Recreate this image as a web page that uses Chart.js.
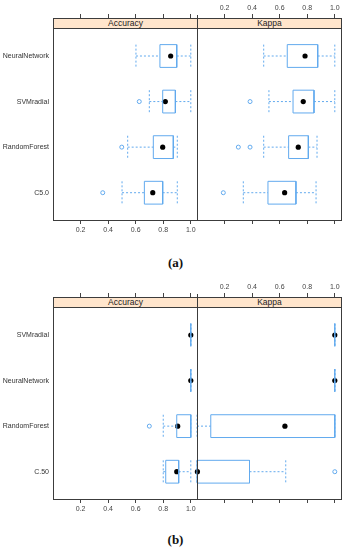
<!DOCTYPE html>
<html><head><meta charset="utf-8">
<script src="https://cdn.jsdelivr.net/npm/chart.js@4.4.1/dist/chart.umd.min.js"></script>
<style>
html,body{margin:0;padding:0;background:#fff;}
body{width:351px;height:550px;position:relative;overflow:hidden;font-family:"Liberation Sans",Arial,sans-serif;}
canvas{position:absolute;}
.frame{position:absolute;border:1px solid #3c3c3c;box-sizing:border-box;pointer-events:none;}
.vline{position:absolute;width:1px;background:#3c3c3c;}
.strip{position:absolute;height:11px;background:#ffe5cc;border-bottom:1px solid #3c3c3c;box-sizing:border-box;font-size:8.5px;line-height:10px;text-align:center;color:#222;}
.caption{position:absolute;left:0;width:351px;text-align:center;font-family:"Liberation Serif","Times New Roman",serif;font-weight:bold;font-size:13px;line-height:16px;color:#111;}
</style></head><body>
<script>
// ---------- data ----------
const tickValues = [0.2, 0.4, 0.6, 0.8, 1.0];
const panelTitles = ["Accuracy", "Kappa"];

// (a)
const catsA = ["NeuralNetwork", "SVMradial", "RandomForest", "C5.0"];
const accA_lo  = [0.602, 0.699, 0.542, 0.501];
const accA_q1  = [0.776, 0.796, 0.728, 0.663];
const accA_med = [0.854, 0.815, 0.796, 0.724];
const accA_q3  = [0.898, 0.888, 0.873, 0.796];
const accA_hi  = [1.0, 1.0, 0.902, 0.902];
const accA_out = [[], [0.626], [0.499], [0.361]];

const kapA_lo  = [0.484, 0.522, 0.484, 0.336];
const kapA_q1  = [0.655, 0.697, 0.665, 0.515];
const kapA_med = [0.784, 0.771, 0.735, 0.636];
const kapA_q3  = [0.876, 0.849, 0.808, 0.718];
const kapA_hi  = [1.0, 1.0, 0.871, 0.864];
const kapA_out = [[], [0.385], [0.300, 0.385], [0.191]];

// (b)
const catsB = ["SVMradial", "NeuralNetwork", "RandomForest", "C.50"];
const accB_lo  = [1.0, 1.0, 0.80, 0.80];
const accB_q1  = [1.0, 1.0, 0.898, 0.818];
const accB_med = [1.0, 1.0, 0.905, 0.898];
const accB_q3  = [1.0, 1.0, 1.0, 0.912];
const accB_hi  = [1.0, 1.0, 1.0, 1.0];
const accB_out = [[], [], [0.699], []];

const kapB_lo  = [1.0, 1.0, 0.0, 0.0];
const kapB_q1  = [1.0, 1.0, 0.10, 0.0];
const kapB_med = [1.0, 1.0, 0.638, 0.003];
const kapB_q3  = [1.0, 1.0, 1.0, 0.381];
const kapB_hi  = [1.0, 1.0, 1.0, 0.644];
const kapB_out = [[], [], [], [1.0]];

// ---------- style / layout ----------
const BLUE = '#62aaee';
const AXIS = '#444';
const FONT = '"Liberation Sans", Arial, sans-serif';
const XMIN = 0, XMAX = 1.045;
const YMIN = -0.834, YMAX = 3.599;
const HALF = 0.25;

function el(tag, cls, style, text){
  const e = document.createElement(tag);
  if (cls) e.className = cls;
  Object.assign(e.style, style);
  if (text !== undefined) e.textContent = text;
  document.body.appendChild(e);
  return e;
}

const GAP = {x: null, y: null};
function boxPts(q1, q3){
  const d = [];
  q1.forEach((a, i) => {
    const b = q3[i];
    d.push({x:a,y:i-HALF},{x:b,y:i-HALF},{x:b,y:i+HALF},{x:a,y:i+HALF},{x:a,y:i-HALF},GAP);
  });
  return d;
}
function whiskPts(lo, q1, q3, hi){
  const d = [];
  lo.forEach((l, i) => { d.push({x:l,y:i},{x:q1[i],y:i},GAP,{x:q3[i],y:i},{x:hi[i],y:i},GAP); });
  return d;
}
function capPts(lo, hi){
  const d = [];
  lo.forEach((l, i) => { d.push({x:l,y:i-HALF},{x:l,y:i+HALF},GAP,{x:hi[i],y:i-HALF},{x:hi[i],y:i+HALF},GAP); });
  return d;
}

function panel(opts){
  const cv = document.createElement('canvas');
  cv.width = opts.w; cv.height = 240;
  cv.style.left = opts.left + 'px'; cv.style.top = opts.top + 'px';
  cv.style.width = opts.w + 'px'; cv.style.height = '240px';
  document.body.appendChild(cv);
  const cats = opts.cats;
  const lineDs = (data, dash) => ({data, showLine:true, borderColor:BLUE, borderWidth:1,
      borderDash:dash, pointRadius:0, fill:false, tension:0, spanGaps:false, clip:false});
  const datasets = [
    lineDs(whiskPts(opts.lo, opts.q1, opts.q3, opts.hi), [2,2]),
    lineDs(capPts(opts.lo, opts.hi), [2,2]),
    lineDs(boxPts(opts.q1, opts.q3), []),
    {data: opts.out.flatMap((arr, i) => arr.map(v => ({x:v, y:i}))), showLine:false,
      pointRadius:2, pointBorderWidth:1, pointBorderColor:BLUE, pointBackgroundColor:'rgba(255,255,255,0)', clip:false},
    {data: opts.med.map((v, i) => ({x:v, y:i})), showLine:false,
      pointRadius:2.6, pointBorderWidth:0, pointBackgroundColor:'#000', clip:false}
  ];
  const xTicks = s => { s.ticks = tickValues.map(v => ({value:v})); };
  const xAxis = (pos, labels, h) => ({
    type:'linear', position:pos, min:XMIN, max:XMAX,
    afterBuildTicks: xTicks,
    afterFit: s => { s.height = h; s.paddingLeft = 0; s.paddingRight = 0; },
    ticks:{display:labels, autoSkip:false, maxRotation:0, padding:2, color:AXIS,
      font:{size:7, family:FONT}, callback: v => Number(v).toFixed(1)},
    grid:{drawOnChartArea:false, drawTicks:true, tickLength:4, color:AXIS, lineWidth:1},
    border:{display:false}
  });
  const yAxis = {type:'linear', display:opts.showY, reverse:true, min:YMIN, max:YMAX,
    afterBuildTicks: s => { s.ticks = cats.map((c, i) => ({value:i})); },
    ticks:{padding:4, color:'#333', font:{size:7, family:FONT}, autoSkip:false,
      callback: v => cats[v]},
    grid:{display:false, drawTicks:false}, border:{display:false}};
  if (opts.showY) yAxis.afterFit = s => { s.width = 53; s.paddingTop = 0; s.paddingBottom = 0; };
  new Chart(cv.getContext('2d'), {
    type:'scatter',
    data:{datasets},
    options:{
      responsive:false, animation:false, devicePixelRatio:1,
      layout:{autoPadding:false, padding:{left:opts.padLeft, right:0, top:0, bottom:0}},
      plugins:{legend:{display:false}, tooltip:{enabled:false}},
      scales:{
        x: xAxis('bottom', opts.bottomLabels, 20),
        x2: xAxis('top', opts.topLabels, 18),
        y: yAxis
      }
    }
  });
}

function figure(T, cats, acc, kap, caption, capTop){
  panel(Object.assign({left:0, top:T-18, w:197, padLeft:0, cats, showY:true, topLabels:false, bottomLabels:true}, acc));
  panel(Object.assign({left:187, top:T-18, w:154, padLeft:10, cats, showY:false, topLabels:true, bottomLabels:false}, kap));
  el('div', 'strip', {left:'54px', top:T+'px', width:'143px'}, panelTitles[0]);
  el('div', 'strip', {left:'198px', top:T+'px', width:'143px'}, panelTitles[1]);
  el('div', 'frame', {left:'53px', top:T+'px', width:'289px', height:'203px'});
  el('div', 'vline', {left:'197px', top:(T-3)+'px', height:'206px'});
  el('div', 'caption', {top:capTop+'px'}, caption);
}

figure(18, catsA,
  {lo:accA_lo, q1:accA_q1, med:accA_med, q3:accA_q3, hi:accA_hi, out:accA_out},
  {lo:kapA_lo, q1:kapA_q1, med:kapA_med, q3:kapA_q3, hi:kapA_hi, out:kapA_out},
  '(a)', 255);
figure(297, catsB,
  {lo:accB_lo, q1:accB_q1, med:accB_med, q3:accB_q3, hi:accB_hi, out:accB_out},
  {lo:kapB_lo, q1:kapB_q1, med:kapB_med, q3:kapB_q3, hi:kapB_hi, out:kapB_out},
  '(b)', 532);
</script>
</body></html>
